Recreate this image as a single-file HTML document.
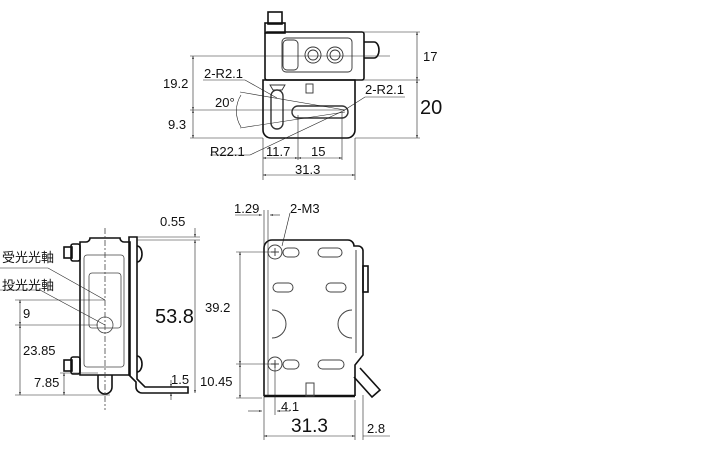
<!DOCTYPE html>
<html><head><meta charset="utf-8"><style>
html,body{margin:0;padding:0;background:#fff;}
svg{display:block;}
text{font-family:"Liberation Sans","Noto Sans CJK JP",sans-serif;fill:#111;}
</style></head><body>
<svg width="725" height="450" viewBox="0 0 725 450" xmlns="http://www.w3.org/2000/svg">
<defs><marker id="a" viewBox="0 0 10 10" refX="10" refY="5" markerWidth="5" markerHeight="5" orient="auto-start-reverse"><path d="M0,2 L10,5 L0,8z" fill="#222"/></marker></defs>
<g fill="none" stroke="#111" stroke-width="1.6">
<!-- TOP VIEW -->
<rect x="268" y="12" width="14" height="12"/>
<rect x="265" y="23" width="20" height="10"/>
<rect x="265" y="32" width="99" height="48" rx="2"/>
<path d="M364,42 h10 a5,8 0 0 1 0,16 h-10"/>
<path d="M263,80 h92 v50 a8,8 0 0 1 -8,8 h-76 a8,8 0 0 1 -8,-8 z"/>
</g>
<g fill="none" stroke="#333" stroke-width="0.9">
<rect x="282" y="38" width="70" height="34" rx="4"/>
<rect x="283" y="40" width="15" height="30" rx="4"/>
<circle cx="313" cy="55" r="8"/><circle cx="313" cy="55" r="5"/>
<circle cx="335" cy="55" r="8"/><circle cx="335" cy="55" r="5"/>
<rect x="271" y="90" width="12" height="39" rx="6" stroke-width="1.4"/>
<rect x="292" y="106" width="56" height="12" rx="6" stroke-width="1.4"/>
<rect x="306" y="84" width="7" height="9"/>
<path d="M270,85 h15 l-3,5 h-9z"/>
</g>
<g stroke="#222" stroke-width="0.6" fill="none">
<line x1="190" y1="56" x2="390" y2="56"/>
<line x1="190" y1="110" x2="345" y2="110"/>
<line x1="190" y1="138" x2="263" y2="138"/>
<line x1="355" y1="32" x2="420" y2="32"/>
<line x1="355" y1="80" x2="420" y2="80"/>
<line x1="355" y1="138" x2="420" y2="138"/>
<line x1="417" y1="32" x2="417" y2="80" marker-start="url(#a)" marker-end="url(#a)"/>
<line x1="417" y1="80" x2="417" y2="138" marker-start="url(#a)" marker-end="url(#a)"/>
<line x1="193" y1="56" x2="193" y2="110" marker-start="url(#a)" marker-end="url(#a)"/>
<line x1="193" y1="110" x2="193" y2="138" marker-start="url(#a)" marker-end="url(#a)"/>
<line x1="263" y1="138" x2="263" y2="180"/><line x1="355" y1="138" x2="355" y2="180"/>
<line x1="298" y1="115" x2="298" y2="160"/><line x1="342" y1="112" x2="342" y2="160"/>
<line x1="263" y1="158" x2="298" y2="158" marker-start="url(#a)" marker-end="url(#a)"/>
<line x1="298" y1="158" x2="342" y2="158" marker-start="url(#a)" marker-end="url(#a)"/>
<line x1="263" y1="175" x2="355" y2="175" marker-start="url(#a)" marker-end="url(#a)"/>
<line x1="240" y1="92" x2="345" y2="110"/><line x1="240" y1="128" x2="345" y2="112"/>
<path d="M241,95 a30,30 0 0 0 0,32"/>
<path d="M203,80 h42 l32,18"/>
<path d="M405,97 h-40 l-22,14"/>
<path d="M210,155 h40 l95,-45"/>
</g>
<text x="163" y="88" font-size="13">19.2</text>
<text x="168" y="129" font-size="13">9.3</text>
<text x="204" y="78" font-size="13">2-R2.1</text>
<text x="215" y="107" font-size="13">20°</text>
<text x="365" y="94" font-size="13">2-R2.1</text>
<text x="210" y="156" font-size="13">R22.1</text>
<text x="266" y="156" font-size="13">11.7</text>
<text x="311" y="156" font-size="13">15</text>
<text x="295" y="174" font-size="13">31.3</text>
<text x="423" y="61" font-size="13">17</text>
<text x="420" y="114" font-size="20">20</text>

<!-- FRONT VIEW -->
<g fill="none" stroke="#111" stroke-width="1.6">
<path d="M80,242 h6 a4,4 0 0 0 4,-4 h30 a4,4 0 0 0 4,4 h6 v133 h-50 z"/>
<rect x="64" y="247" width="8" height="11"/><rect x="71" y="244" width="9" height="17" rx="2"/>
<rect x="64" y="360" width="8" height="11"/><rect x="71" y="357" width="9" height="17" rx="2"/>
<path d="M98,375 v12 a7,7 0 0 0 14,0 v-12"/>
<path d="M129,237 h8 v142 l8,8 h43 v6 h-46 a6,6 0 0 1 -6,-6 v-5 l-7,-7 z"/>
<path d="M137,246 a5,8 0 0 1 0,16"/><path d="M137,356 a5,8 0 0 1 0,16"/>
</g>
<g fill="none" stroke="#444" stroke-width="0.8">
<rect x="84" y="255" width="40" height="112" rx="3"/>
<rect x="89" y="273" width="32" height="55" rx="3"/>
<circle cx="105" cy="325" r="8"/>
<line x1="105" y1="228" x2="105" y2="410" stroke-dasharray="6,2,2,2"/>
</g>
<g stroke="#222" stroke-width="0.6" fill="none">
<path d="M0,268 h48 l57,32"/><path d="M0,290 h40 l65,35"/>
<line x1="15" y1="300" x2="105" y2="300"/><line x1="15" y1="325" x2="98" y2="325"/>
<line x1="15" y1="395" x2="110" y2="395"/>
<line x1="60" y1="373" x2="98" y2="373"/>
<line x1="20" y1="300" x2="20" y2="325" marker-start="url(#a)" marker-end="url(#a)"/>
<line x1="20" y1="325" x2="20" y2="395" marker-start="url(#a)" marker-end="url(#a)"/>
<line x1="64" y1="373" x2="64" y2="395" marker-start="url(#a)" marker-end="url(#a)"/>
<line x1="137" y1="237" x2="200" y2="237"/><line x1="137" y1="240" x2="200" y2="240"/>
<line x1="195" y1="228" x2="195" y2="237" marker-end="url(#a)"/>
<line x1="195" y1="240" x2="195" y2="393" marker-start="url(#a)" marker-end="url(#a)"/>
<line x1="171" y1="380" x2="171" y2="387" marker-end="url(#a)"/>
<line x1="171" y1="400" x2="171" y2="393" marker-end="url(#a)"/>
</g>
<text x="160" y="226" font-size="13">0.55</text>
<text x="2" y="262" font-size="13">受光光軸</text>
<text x="2" y="290" font-size="13">投光光軸</text>
<text x="23" y="318" font-size="13">9</text>
<text x="23" y="355" font-size="13">23.85</text>
<text x="34" y="387" font-size="13">7.85</text>
<text x="171" y="384" font-size="13">1.5</text>
<text x="155" y="323" font-size="20">53.8</text>

<!-- SIDE VIEW -->
<g fill="none" stroke="#111" stroke-width="1.6">
<path d="M264,396 v-148 a8,8 0 0 1 8,-8 h76 a6,6 0 0 1 6,6 h4 a5,5 0 0 1 5,5 v104 l-8,10 v31"/>
<line x1="264" y1="396" x2="355" y2="396" stroke-width="2.4"/>
<rect x="363" y="266" width="5" height="26"/>
<path d="M360,368 l20,22 l-8,7 l-18,-20"/>
</g>
<g fill="none" stroke="#444" stroke-width="1">
<path d="M356,250 v103"/>
<circle cx="275" cy="252" r="7"/><path d="M271,252h8M275,248v8"/>
<circle cx="275" cy="364" r="7"/><path d="M271,364h8M275,360v8"/>
<rect x="283" y="248" width="16" height="9" rx="4.5"/><rect x="318" y="248" width="24" height="9" rx="4.5"/>
<rect x="273" y="283" width="20" height="9" rx="4.5"/><rect x="326" y="283" width="20" height="9" rx="4.5"/>
<rect x="283" y="360" width="16" height="9" rx="4.5"/><rect x="318" y="360" width="26" height="9" rx="4.5"/>
<path d="M272,310 a14,14 0 0 1 0,28"/><path d="M352,310 a14,14 0 0 0 0,28"/>
<rect x="306" y="383" width="8" height="13"/>
</g>
<g stroke="#222" stroke-width="0.6" fill="none">
<line x1="264" y1="210" x2="264" y2="440"/><line x1="268" y1="210" x2="268" y2="396"/>
<line x1="235" y1="215" x2="262" y2="215" marker-end="url(#a)"/><line x1="280" y1="215" x2="270" y2="215" marker-end="url(#a)"/>
<path d="M290,213 l-8,33"/>
<line x1="236" y1="252" x2="275" y2="252"/><line x1="236" y1="364" x2="275" y2="364"/>
<line x1="236" y1="398" x2="262" y2="398"/>
<line x1="240" y1="252" x2="240" y2="364" marker-start="url(#a)" marker-end="url(#a)"/>
<line x1="240" y1="364" x2="240" y2="398" marker-start="url(#a)" marker-end="url(#a)"/>
<line x1="275" y1="364" x2="275" y2="415"/>
<line x1="248" y1="411" x2="262" y2="411" marker-end="url(#a)"/><line x1="290" y1="411" x2="277" y2="411" marker-end="url(#a)"/>
<line x1="355" y1="400" x2="355" y2="440"/><line x1="363" y1="395" x2="363" y2="440"/>
<line x1="264" y1="436" x2="355" y2="436" marker-start="url(#a)" marker-end="url(#a)"/>
<line x1="363" y1="436" x2="390" y2="436"/>
</g>
<text x="234" y="213" font-size="13">1.29</text>
<text x="290" y="213" font-size="13">2-M3</text>
<text x="205" y="312" font-size="13">39.2</text>
<text x="200" y="386" font-size="13">10.45</text>
<text x="281" y="411" font-size="13">4.1</text>
<text x="291" y="432" font-size="19">31.3</text>
<text x="367" y="433" font-size="13">2.8</text>
</svg>
</body></html>
